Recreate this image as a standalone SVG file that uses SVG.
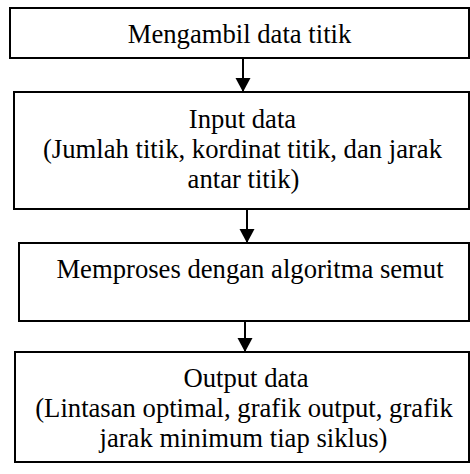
<svg xmlns="http://www.w3.org/2000/svg" width="470" height="474" viewBox="0 0 470 474">
<style>
.box{fill:#fff;stroke:#000;stroke-width:2}
text{font-family:'Liberation Serif',Times,'DejaVu Serif',serif;font-size:26.67px;fill:#000;text-anchor:middle}
.c{stroke:#000;stroke-width:2;fill:none}
</style>
<defs>
<marker id="ah" markerUnits="userSpaceOnUse" markerWidth="16" markerHeight="16" refX="14" refY="7.5" orient="auto">
<path d="M0,0 L14,7.5 L0,15 Z" fill="#000"/>
</marker>
</defs>
<g id="connectors">
<line class="c" x1="243" y1="58" x2="243" y2="92" marker-end="url(#ah)"/>
<line class="c" x1="247" y1="209" x2="247" y2="243" marker-end="url(#ah)"/>
<line class="c" x1="245" y1="321" x2="245" y2="352" marker-end="url(#ah)"/>
</g>
<g id="node1">
<rect class="box" x="10" y="8" width="459" height="50"/>
<text x="239.5" y="43" font-family="Liberation Serif, serif">Mengambil data titik</text>
</g>
<g id="node2">
<rect class="box" x="14" y="92" width="455" height="117"/>
<text x="242.5" y="128" font-family="Liberation Serif, serif">Input data</text>
<text x="242.5" y="158" font-family="Liberation Serif, serif">(Jumlah titik, kordinat titik, dan jarak</text>
<text x="243.5" y="188" font-family="Liberation Serif, serif">antar titik)</text>
</g>
<g id="node3">
<rect class="box" x="19" y="243" width="450" height="78"/>
<text x="250" y="278" font-family="Liberation Serif, serif">Memproses dengan algoritma semut</text>
</g>
<g id="node4">
<rect class="box" x="15" y="352" width="454" height="110"/>
<text x="246" y="387" font-family="Liberation Serif, serif">Output data</text>
<text x="244" y="417" font-family="Liberation Serif, serif">(Lintasan optimal, grafik output, grafik</text>
<text x="243.5" y="447" font-family="Liberation Serif, serif">jarak minimum tiap siklus)</text>
</g>
</svg>
